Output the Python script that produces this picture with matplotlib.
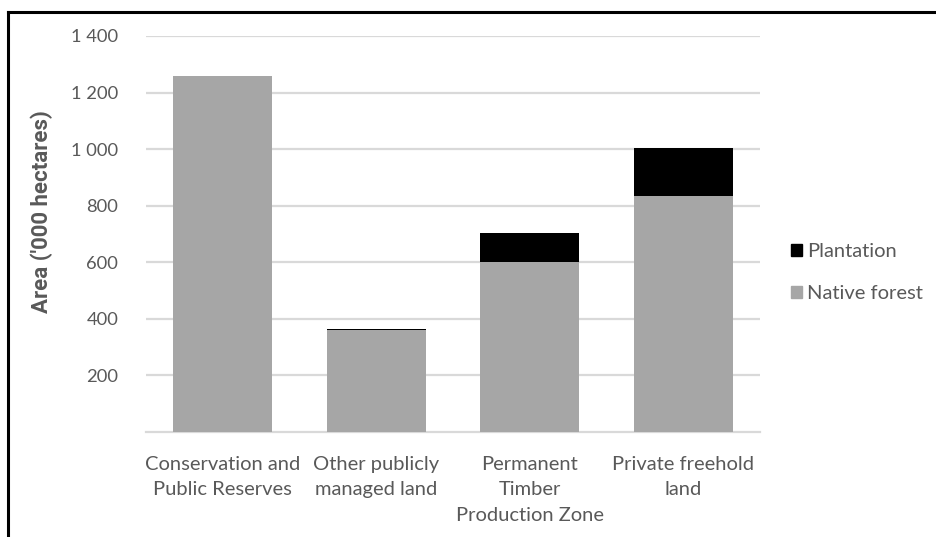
import matplotlib
matplotlib.use("Agg")
import matplotlib.pyplot as plt
from matplotlib.lines import Line2D
from matplotlib.patches import Patch
from matplotlib.font_manager import FontProperties

categories = ["Conservation and\nPublic Reserves", "Other publicly\nmanaged land",
              "Permanent\nTimber\nProduction Zone", "Private freehold\nland"]
native_forest = [1257, 361, 600, 835]
plantation = [3, 3, 103, 170]
y_ticks = [200, 400, 600, 800, 1000, 1200, 1400]

plt.rcParams['font.family'] = ['Lato', 'DejaVu Sans']
text_col = "#595959"
grid_col = "#d9d9d9"

fig = plt.figure(figsize=(9.37, 5.37), dpi=100)
ax = fig.add_axes([146/937, 1 - 432/537, (760 - 146)/937, (432 - 36)/537])

x = range(len(categories))
ax.bar(x, native_forest, width=0.645, color="#a6a6a6", label="Native forest", zorder=3)
ax.bar(x, plantation, width=0.645, bottom=native_forest, color="#000000",
       label="Plantation", zorder=3)

ax.set_xlim(-0.5, len(categories) - 0.5)
ax.set_ylim(0, 1400)
ax.set_yticks(y_ticks)
ax.set_yticklabels([f"{v:,}".replace(",", " ") for v in y_ticks])
ax.yaxis.grid(True, color=grid_col, linewidth=1.6, zorder=0)
for s in ["top", "right", "left"]:
    ax.spines[s].set_visible(False)
ax.spines["bottom"].set_color(grid_col)
ax.spines["bottom"].set_linewidth(1.6)
ax.tick_params(axis="both", length=0, colors=text_col)
ax.tick_params(axis="y", pad=20, labelsize=13.2)
ax.tick_params(axis="x", pad=17, labelsize=14.5)
ax.set_xticks(list(x))
ax.set_xticklabels(categories, linespacing=1.62)

label_font = FontProperties(family="Roboto", weight="bold", size=16)
ax.set_ylabel("Area ('000 hectares)", color=text_col, fontproperties=label_font)
ax.yaxis.set_label_coords(-(146 - 53) / 614, (432 - 212) / 396)

handles = [Patch(color="#000000", label="Plantation"),
           Patch(color="#a6a6a6", label="Native forest")]
leg = fig.legend(handles=handles, loc="upper left", bbox_to_anchor=(781/937, 1 - 233/537),
                 frameon=False, fontsize=14.5, handlelength=0.55, handleheight=0.55,
                 handletextpad=0.25, labelspacing=1.25, borderpad=0)
for t in leg.get_texts():
    t.set_color(text_col)

# frame lines along the top and left edges
fig.add_artist(Line2D([8.5/937, 1], [1 - 11.5/537, 1 - 11.5/537], color="black",
                      linewidth=2.2, transform=fig.transFigure))
fig.add_artist(Line2D([8.5/937, 8.5/937], [0, 1 - 11.5/537], color="black",
                      linewidth=2.2, transform=fig.transFigure))

fig.savefig("out.png", dpi=100)
